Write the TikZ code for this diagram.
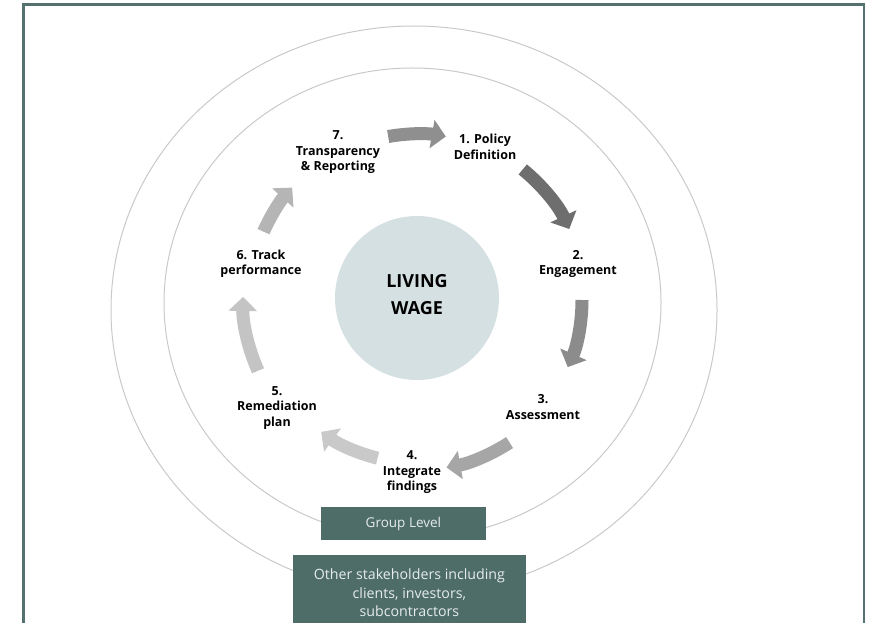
\documentclass[tikz,border=0pt]{standalone}
\usepackage{fontspec}
\setmainfont{Open Sans}
\usetikzlibrary{arrows.meta, calc}
\definecolor{lwTeal}{HTML}{4E6D69}
\definecolor{lwFrame}{HTML}{54716F}
\definecolor{lwHub}{HTML}{D5E0E2}
\definecolor{lwRing}{HTML}{C9C9C9}
\definecolor{lwText}{HTML}{E6ECEB}

\begin{document}
\begin{tikzpicture}[
        x=1pt, y=1pt,
        stage/.style={font=\fontsize{12.5}{15.5}\selectfont\bfseries, align=center, text=black, inner sep=0pt},
        ring/.style={draw=lwRing, line width=1pt},
        turn/.style={line width=13pt, -{Triangle[length=14pt, width=28pt]}},
        banner/.style={rectangle, fill=lwTeal, text=lwText, align=center, inner sep=0pt}
    ]
        \useasboundingbox (0,0) rectangle (869,622);

        % --- Frame and rings ---
        \draw[lwFrame, line width=2.5pt] (23.5,-4) -- (23.5,617.5) -- (864,617.5) -- (864,-4);
        \draw[ring] (414,312) ellipse [x radius=303, y radius=284];
        \draw[ring] (412.5,319) ellipse [x radius=248.5, y radius=235];

        % --- Hub ---
        \node[circle, fill=lwHub, minimum size=164pt, inner sep=0pt, align=center,
              font=\fontsize{18}{27}\selectfont\bfseries] (hub) at (417,324) {};
        \node[align=center, inner sep=0pt, font=\fontsize{18}{27}\selectfont\bfseries]
              (wage) at (417,327.5) {LIVING\\WAGE};
        \coordinate (ctr) at (417,322);

        % --- Stages ---
        \node[stage] (s1) at (485,475) {1. Policy\\Definition};
        \node[stage] (s2) at (578,358) {2.\\Engagement};
        \node[stage] (s3) at (543,215) {3.\\Assessment};
        \node[stage] (s4) at (412,149.5) {4.\\Integrate\\findings};
        \node[stage] (s5) at (277,214) {5.\\Remediation\\plan};
        \node[stage] (s6) at (261,358) {6. Track\\performance};
        \node[stage] (s7) at (338,469.5) {7.\\Transparency\\\& Reporting};

        % --- Cycle arrows ---
        \coordinate (t71) at ($(ctr)+(100:166)$);
        \coordinate (t12) at ($(ctr)+(51:168)$);
        \coordinate (t23) at ($(ctr)+(0:165)$);
        \coordinate (t34) at ($(ctr)+(-57:170)$);
        \coordinate (t45) at ($(ctr)+(-104:163)$);
        \coordinate (t56) at ($(ctr)+(-156:174)$);
        \coordinate (t67) at ($(ctr)+(156:168)$);
        \draw[turn, draw=black!44, fill=black!44] (t71) arc[start angle=100, end angle=80, radius=166];
        \draw[turn, draw=black!57, fill=black!57] (t12) arc[start angle=51, end angle=25, radius=168];
        \draw[turn, draw=black!45, fill=black!45] (t23) arc[start angle=0, end angle=-24, radius=165];
        \draw[turn, draw=black!35, fill=black!35] (t34) arc[start angle=-57, end angle=-80, radius=170];
        \draw[turn, draw=black!21, fill=black!21] (t45) arc[start angle=-104, end angle=-126, radius=163];
        \draw[turn, draw=black!23, fill=black!23] (t56) arc[start angle=-156, end angle=-181, radius=174];
        \draw[turn, draw=black!29, fill=black!29] (t67) arc[start angle=156, end angle=138, radius=168];

        % --- Levels ---
        \node[banner, minimum width=165pt, minimum height=33pt,
              font=\fontsize{13.5}{16}\selectfont] (group) at (403.4,98.5) {Group Level};
        \node[banner, anchor=north, minimum width=233pt, minimum height=75pt,
              font=\fontsize{14.2}{18.5}\selectfont] (others) at (409.4,67)
              {Other stakeholders including\\clients, investors,\\subcontractors};
    \end{tikzpicture}
\end{document}
